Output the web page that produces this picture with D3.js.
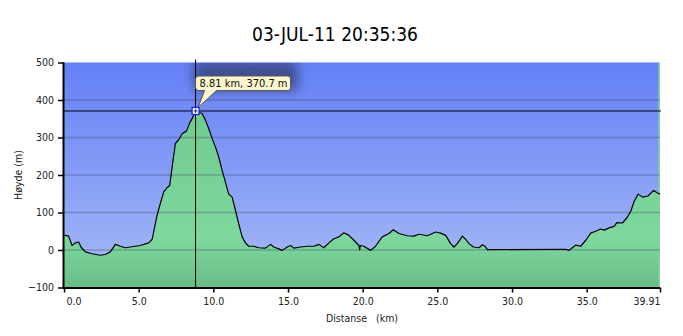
<!DOCTYPE html>
<html>
<head>
<meta charset="utf-8">
<script src="https://cdn.jsdelivr.net/npm/d3@7"></script>
<style>
  body { margin: 0; background: #fff; }
  text { font-family: "DejaVu Sans Condensed", "DejaVu Sans", sans-serif; }
</style>
</head>
<body>
<div id="profil"></div>
<script>
  // hoydeprofil, avstand i km og hoyde i m
  var distanse = [0.0, 0.09, 0.31, 0.54, 0.76, 0.98, 1.14, 1.43, 1.88, 2.43, 2.77, 3.1, 3.44, 3.77, 4.11, 4.44,
    5.11, 5.67, 5.9, 6.05, 6.23, 6.45, 6.68, 6.9, 7.08, 7.24, 7.46, 7.68, 7.91, 8.2, 8.42, 8.64, 8.81, 8.95,
    9.25, 9.47, 9.69, 9.92, 10.14, 10.36, 10.59, 10.81, 11.03, 11.26, 11.48, 11.7, 11.93, 12.15, 12.37, 12.71,
    13.04, 13.49, 13.83, 14.05, 14.38, 14.61, 14.95, 15.17, 15.39, 15.84, 16.29, 16.73, 17.07, 17.4, 17.74,
    18.07, 18.41, 18.74, 19.08, 19.41, 19.75, 19.8, 19.84, 20.08, 20.53, 20.86, 21.31, 21.76, 22.05, 22.43,
    22.99, 23.43, 23.77, 24.33, 24.89, 25.22, 25.56, 25.89, 26.11, 26.34, 26.68, 26.9, 27.12, 27.41, 27.79,
    28.02, 28.19, 28.35, 33.56, 33.82, 34.04, 34.27, 34.6, 34.94, 35.27, 35.6, 35.94, 36.17, 36.5, 36.84,
    37.02, 37.4, 37.73, 37.96, 38.18, 38.45, 38.74, 39.11, 39.48, 39.74, 39.91];
  var hoyde = [40, 39, 37, 12, 19, 21, 8, -5, -10, -14, -12, -5, 15, 10, 6, 8,
    12, 19, 28, 57, 92, 124, 155, 166, 172, 221, 284, 294, 310, 317, 339, 355, 370.7, 368,
    364, 346, 324, 297, 275, 248, 212, 181, 149, 141, 106, 70, 35, 19, 10, 10,
    6, 5, 15, 8, 3, -1, 8, 12, 5, 8, 10, 10, 15, 6, 19,
    30, 35, 46, 39, 26, 12, 0, 12, 10, -1, 10, 35, 44, 54, 44,
    38, 37, 42, 38, 48, 45, 39, 17, 8, 17, 37, 28, 17, 8, 6,
    14, 10, 1, 2, -1, 6, 13, 10, 26, 45, 50, 56, 53, 59, 63,
    73, 72, 88, 104, 130, 149, 141, 144, 159, 152, 149];

  var xTicks = [0, 5, 10, 15, 20, 25, 30, 35, 39.91];
  var yTicks = [-100, 0, 100, 200, 300, 400, 500];
  var markert = [8.81, 370.7];   // valgt punkt

  var tittel = "03-JUL-11 20:35:36";

  var W = 683, H = 336;
  var margin = {top: 62.5, right: 23, bottom: 48.5, left: 64};
  var width = W - margin.left - margin.right,
      height = H - margin.top - margin.bottom;

  var svg = d3.select("#profil").append("svg")
      .attr("width", W).attr("height", H);

  var defs = svg.append("defs");
  var bla = defs.append("linearGradient").attr("id", "bla")
      .attr("x1", 0).attr("y1", 0).attr("x2", 0).attr("y2", 1);
  bla.append("stop").attr("offset", "0%").attr("stop-color", "#6480f6");
  bla.append("stop").attr("offset", "100%").attr("stop-color", "#a9bbf5");
  var gronn = defs.append("linearGradient").attr("id", "gronn")
      .attr("gradientUnits", "userSpaceOnUse")
      .attr("x1", 0).attr("y1", 0).attr("x2", 0).attr("y2", height);
  gronn.append("stop").attr("offset", "0%").attr("stop-color", "#6cc68c");
  gronn.append("stop").attr("offset", "78%").attr("stop-color", "#7dd89e");
  gronn.append("stop").attr("offset", "100%").attr("stop-color", "#69bd86");
  defs.append("clipPath").attr("id", "klipp")
    .append("rect").attr("width", width).attr("height", height);
  defs.append("filter").attr("id", "skygge")
      .attr("x", "-50%").attr("y", "-50%").attr("width", "200%").attr("height", "200%")
    .append("feGaussianBlur").attr("stdDeviation", 6);

  var g = svg.append("g")
      .attr("transform", "translate(" + margin.left + "," + margin.top + ")");

  var x = d3.scaleLinear().domain([0, 39.91]).range([0, width]);
  var y = d3.scaleLinear().domain([-100, 500]).range([height, 0]);

  // bakgrunn
  g.append("rect").attr("width", width).attr("height", height).attr("fill", "url(#bla)");

  var data = distanse.map(function(d, i) { return [d, hoyde[i]]; });

  var plot = g.append("g").attr("clip-path", "url(#klipp)");

  plot.append("path")
      .datum(data)
      .attr("fill", "url(#gronn)")
      .attr("d", d3.area()
        .x(function(d) { return x(d[0]); })
        .y0(height)
        .y1(function(d) { return y(d[1]); }));

  // gront felt helt til hoyre
  plot.append("rect")
      .attr("x", x(39.8)).attr("width", x(39.91) - x(39.8))
      .attr("height", height).attr("fill", "#7cd59c");

  // rutenett
  plot.selectAll(".grid")
      .data(yTicks.filter(function(d) { return d > -100 && d < 500; }))
      .enter().append("line")
      .attr("x1", 0).attr("x2", width)
      .attr("y1", function(d) { return y(d); })
      .attr("y2", function(d) { return y(d); })
      .attr("stroke", "rgba(50,60,90,0.3)")
      .attr("stroke-width", 1.5);

  plot.append("path")
      .datum(data)
      .attr("fill", "none")
      .attr("stroke", "#000")
      .attr("stroke-width", 1.2)
      .attr("stroke-linejoin", "round")
      .attr("d", d3.line()
        .x(function(d) { return x(d[0]); })
        .y(function(d) { return y(d[1]); }));

  var px = x(markert[0]), py = y(markert[1]);

  // skygge fra tooltip
  plot.append("rect")
      .attr("x", px - 2).attr("y", py - 50)
      .attr("width", 104).attr("height", 30)
      .attr("fill", "rgba(0,0,0,0.4)")
      .attr("filter", "url(#skygge)");

  // trådkors
  g.append("line")
      .attr("x1", 0).attr("x2", width + 1)
      .attr("y1", py).attr("y2", py)
      .attr("stroke", "#000").attr("stroke-width", 1);
  g.append("line")
      .attr("x1", px).attr("x2", px)
      .attr("y1", -3).attr("y2", height)
      .attr("stroke", "#000").attr("stroke-width", 1);

  // akser
  var xAxis = d3.axisBottom(x).tickValues(xTicks).tickSize(5)
      .tickFormat(function(d) { return d === 39.91 ? "39.91" : d3.format(".1f")(d); });
  var gx = g.append("g").attr("transform", "translate(0," + height + ")").call(xAxis);
  gx.select(".domain").attr("stroke-width", 2).attr("d", "M0,0.5H" + width);
  gx.selectAll("line").attr("stroke-width", 1.5);
  gx.selectAll("text").attr("font-size", 10.5).attr("fill", "#222").attr("dy", "0.9em")
      .attr("text-anchor", function(d) { return d === 0 ? "start" : d === 39.91 ? "end" : "middle"; })
      .attr("dx", function(d) { return d === 0 ? 2 : 0; });

  var yAxis = d3.axisLeft(y).tickValues(yTicks).tickSize(6);
  var gy = g.append("g").call(yAxis);
  gy.select(".domain").attr("stroke-width", 2).attr("d", "M-0.5,0V" + (height + 1.5));
  gy.selectAll("line").attr("stroke-width", 1.5);
  gy.selectAll("text").attr("font-size", 10.5).attr("fill", "#222").attr("dx", "-1");

  // markør
  g.append("rect")
      .attr("x", px - 3.5).attr("y", py - 3.5)
      .attr("width", 7).attr("height", 7)
      .attr("fill", "#fff").attr("stroke", "#1a1aff").attr("stroke-width", 1.3);
  g.append("path")
      .attr("d", "M" + (px - 2) + "," + py + "H" + (px + 2) + "M" + px + "," + (py - 2) + "V" + (py + 2))
      .attr("stroke", "#333").attr("stroke-width", 1);

  // tooltip
  var bx = px, by = py - 35, bw = 95, bh = 14.5, r = 3;
  var tip = "M" + (bx + r) + "," + by +
    "H" + (bx + bw - r) + "Q" + (bx + bw) + "," + by + " " + (bx + bw) + "," + (by + r) +
    "V" + (by + bh - r) + "Q" + (bx + bw) + "," + (by + bh) + " " + (bx + bw - r) + "," + (by + bh) +
    "H" + (bx + 21) + "L" + (px + 2.5) + "," + (py - 3.5) + "L" + (bx + 9) + "," + (by + bh) +
    "H" + (bx + r) + "Q" + bx + "," + (by + bh) + " " + bx + "," + (by + bh - r) +
    "V" + (by + r) + "Q" + bx + "," + by + " " + (bx + r) + "," + by + "Z";
  g.append("path").attr("d", tip)
      .attr("fill", "#fdf5cc").attr("stroke", "#555").attr("stroke-width", 1);
  g.append("text")
      .attr("x", bx + 4).attr("y", by + 11)
      .attr("font-size", 11).attr("fill", "#111")
      .text(markert[0].toFixed(2) + " km, " + markert[1].toFixed(1) + " m");

  // titler
  svg.append("text")
      .attr("x", 335).attr("y", 41)
      .attr("text-anchor", "middle")
      .attr("font-size", 19)
      .attr("fill", "#000")
      .text(tittel);
  svg.append("text")
      .attr("transform", "translate(22," + (margin.top + height / 2) + ") rotate(-90)")
      .attr("text-anchor", "middle")
      .attr("font-size", 10.5).attr("fill", "#222")
      .text("Høyde (m)");
  svg.append("text")
      .attr("x", margin.left + width / 2).attr("y", 322)
      .attr("text-anchor", "middle")
      .attr("font-size", 10.5).attr("fill", "#222")
      .attr("xml:space", "preserve")
      .style("white-space", "pre")
      .text("Distanse   (km)");
</script>
</body>
</html>
